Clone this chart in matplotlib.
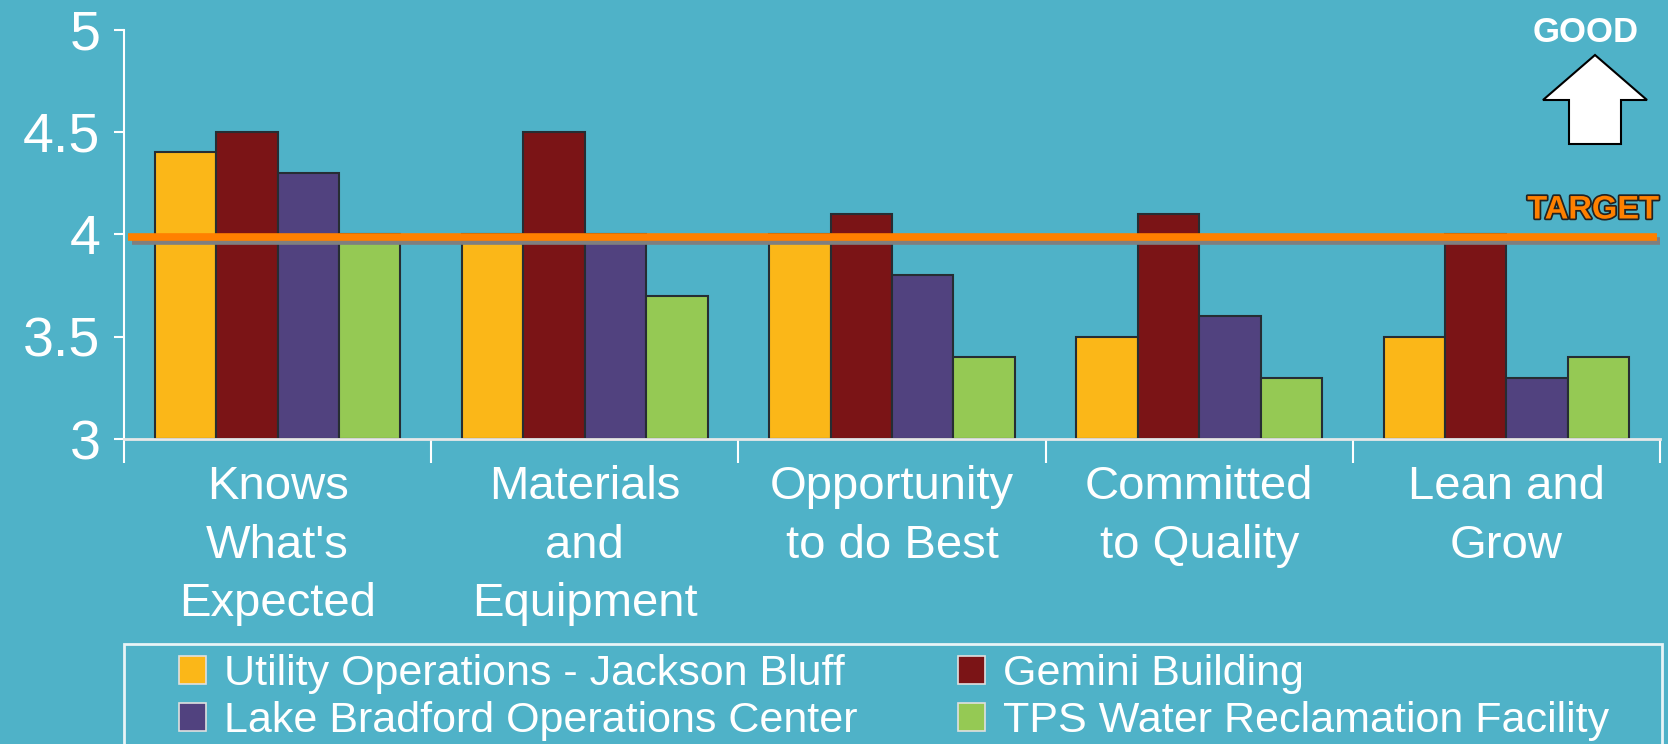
import matplotlib

matplotlib.use("Agg")
import matplotlib.pyplot as plt
import matplotlib.patheffects as pe
import numpy as np
from matplotlib.patches import Patch, Polygon, Rectangle

plt.rcParams["font.family"] = ["Liberation Sans", "DejaVu Sans"]

BG = "#4fb2c8"

categories = [
    "Knows\nWhat's\nExpected",
    "Materials\nand\nEquipment",
    "Opportunity\nto do Best",
    "Committed\nto Quality",
    "Lean and\nGrow",
]
series_names = [
    "Utility Operations - Jackson Bluff",
    "Gemini Building",
    "Lake Bradford Operations Center",
    "TPS Water Reclamation Facility",
]
jackson_bluff = [4.4, 4.0, 4.0, 3.5, 3.5]
gemini = [4.5, 4.5, 4.1, 4.1, 4.0]
lake_bradford = [4.3, 4.0, 3.8, 3.6, 3.3]
tps_water = [4.0, 3.7, 3.4, 3.3, 3.4]
series_colors = ["#fbb718", "#7b1416", "#51427f", "#95c954"]
target = 3.985
y_ticks = [3, 3.5, 4, 4.5, 5]

W, H = 1668, 744
fig = plt.figure(figsize=(W / 100, H / 100), dpi=100, facecolor=BG)
ax = fig.add_axes([124 / W, 1 - 439 / H, (1660 - 124) / W, (439 - 29.5) / H])
ax.set_facecolor(BG)

x = np.arange(len(categories))
width = 0.2
all_series = [jackson_bluff, gemini, lake_bradford, tps_water]
for i, (vals, color) in enumerate(zip(all_series, series_colors)):
    ax.bar(
        x + (i - 1.5) * width,
        np.array(vals) - 3,
        width,
        bottom=3,
        color=color,
        edgecolor="#262d33",
        linewidth=1.5,
        zorder=2,
    )

# target line with drop shadow
ax.plot(
    [-0.487, 4.49],
    [target, target],
    color="#ff8000",
    linewidth=5.5,
    solid_capstyle="butt",
    zorder=3,
    path_effects=[
        pe.SimpleLineShadow(offset=(3, -2.5), shadow_color="#7f7f7f", alpha=1),
        pe.Normal(),
    ],
)

ax.set_xlim(-0.5, 4.5)
ax.set_ylim(3, 5)
ax.set_yticks(y_ticks)
ax.set_yticklabels([f"{v:g}" for v in y_ticks])
ax.tick_params(axis="y", colors="white", labelsize=40, length=7, width=1.5, pad=10)
ax.set_xticks(x)
ax.set_xticklabels(categories, fontsize=34, color="white", linespacing=1.42)
ax.tick_params(axis="x", which="major", length=0, pad=19)
ax.set_xticks(np.arange(-0.5, 5, 1), minor=True)
ax.tick_params(axis="x", which="minor", length=17, width=1.5, color="white")
for side in ["top", "right"]:
    ax.spines[side].set_visible(False)
ax.spines["left"].set_color("white")
ax.spines["left"].set_linewidth(1.5)
ax.spines["bottom"].set_color("#e8e8e8")
ax.spines["bottom"].set_linewidth(2)

# TARGET label and GOOD arrow
fig.text(
    1659 / W, 1 - 210 / H, "TARGET", ha="right", va="center", fontsize=23.5,
    fontweight="bold", color="#ff8000",
    path_effects=[pe.withStroke(linewidth=2.5, foreground="#222222")],
)
fig.text(1586 / W, 1 - 33 / H, "GOOD", ha="center", va="center", fontsize=25,
         fontweight="bold", color="white")
arrow_px = [(1595, 55), (1647, 100), (1621, 100), (1621, 144),
            (1569, 144), (1569, 100), (1543, 100)]
fig.patches.append(Polygon(
    [(px / W, 1 - py / H) for px, py in arrow_px], closed=True,
    facecolor="white", edgecolor="black", linewidth=1.5, transform=fig.transFigure,
))

# legend box running off the bottom edge
fig.patches.append(Rectangle(
    (124 / W, -0.05), (1662 - 124) / W, 0.05 + (1 - 644 / H),
    facecolor="none", edgecolor="#e8f4f7", linewidth=2, transform=fig.transFigure,
))
handles = [Patch(facecolor=c, edgecolor="#e0e0e0", linewidth=1.2) for c in series_colors]
legend_kw = dict(
    loc="upper left", frameon=False, fontsize=31, labelcolor="white",
    handlelength=0.63, handleheight=0.63, handletextpad=0.42,
    labelspacing=0.17, borderaxespad=0, borderpad=0,
)
# row-major order: left column holds series 0 and 2, right column 1 and 3
fig.legend([handles[0], handles[2]], [series_names[0], series_names[2]],
           bbox_to_anchor=(179 / W, 1 - 654 / H), **legend_kw)
fig.legend([handles[1], handles[3]], [series_names[1], series_names[3]],
           bbox_to_anchor=(958 / W, 1 - 654 / H), **legend_kw)

fig.savefig("out.png", dpi=100, facecolor=BG)
